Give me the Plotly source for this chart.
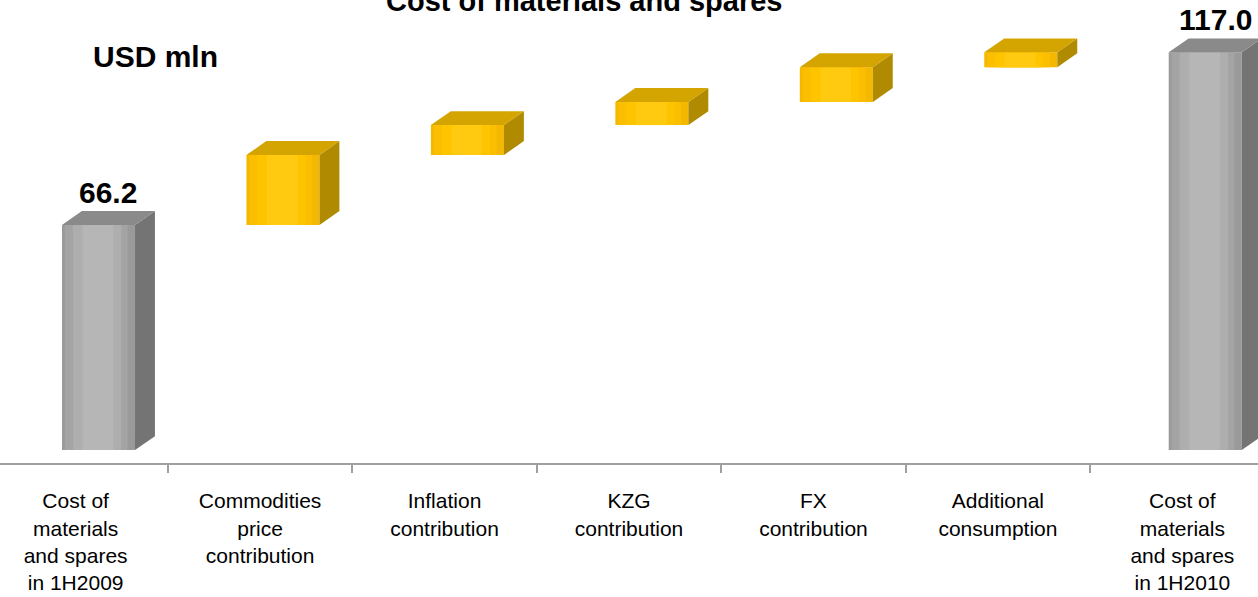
import plotly.graph_objects as go

# ---- data ----
categories = [
    "Cost of<br>materials<br>and spares<br>in 1H2009",
    "Commodities<br>price<br>contribution",
    "Inflation<br>contribution",
    "KZG<br>contribution",
    "FX<br>contribution",
    "Additional<br>consumption",
    "Cost of<br>materials<br>and spares<br>in 1H2010",
]
start_value = 66.2
changes = [20.6, 8.8, 6.8, 10.2, 4.4]
end_value = 117.0
title_text = "Cost of materials and spares"
unit_text = "USD mln"

# ---- derive waterfall bases / heights ----
bases, heights, kinds = [0.0], [start_value], ["total"]
level = start_value
for c in changes:
    bases.append(level)
    heights.append(c)
    kinds.append("delta")
    level += c
bases.append(0.0)
heights.append(end_value)
kinds.append("total")

# ---- 3D styling (in axis units) ----
W = 0.396      # front face width
OFF = -0.074   # front face left offset from category centre
DX = 0.108     # depth to the right
DY = 4.1       # depth upwards (value units)

colors = {
    "total": dict(front="#9A9A9A", bands=["#A4A4A4", "#AEAEAE", "#B6B6B6"],
                  top="#8A8A8A", side="#747474"),
    "delta": dict(front="#F5B800", bands=["#FBBE00", "#FFC400", "#FFCA10"],
                  top="#D4A400", side="#B08A00"),
}

fig = go.Figure()
xs = list(range(len(categories)))

# side and top faces
for i, b, h, k in zip(xs, bases, heights, kinds):
    c = colors[k]
    L = i + OFF
    R = L + W
    t = b + h
    fig.add_trace(go.Scatter(
        x=[R, R + DX, R + DX, R, R], y=[b, b + DY, t + DY, t, b],
        fill="toself", fillcolor=c["side"], mode="lines",
        line=dict(width=0, color=c["side"]), hoverinfo="skip", showlegend=False))
    fig.add_trace(go.Scatter(
        x=[L, R, R + DX, L + DX, L], y=[t, t, t + DY, t + DY, t],
        fill="toself", fillcolor=c["top"], mode="lines",
        line=dict(width=0, color=c["top"]), hoverinfo="skip", showlegend=False))

# front faces
fig.add_trace(go.Bar(
    x=xs, y=heights, base=bases, width=W, offset=OFF,
    marker=dict(color=[colors[k]["front"] for k in kinds], line=dict(width=0)),
    hoverinfo="skip", showlegend=False))
# soft gradient bands on front faces
for j, frac in enumerate([0.86, 0.66, 0.42]):
    fig.add_trace(go.Bar(
        x=xs, y=heights, base=bases, width=W * frac, offset=OFF + W * (0.04 + (0.86 - frac) * 0.55),
        marker=dict(color=[colors[k]["bands"][j] for k in kinds], line=dict(width=0)),
        hoverinfo="skip", showlegend=False))

fig.update_layout(barmode="overlay")

# value labels on total bars
for i, b, h, k in zip(xs, bases, heights, kinds):
    if k == "total":
        fig.add_annotation(
            x=i + OFF + (W + DX) / 2, y=b + h + DY, text=f"<b>{h:.1f}</b>",
            showarrow=False, yanchor="bottom", yshift=0,
            font=dict(family="Liberation Sans, Arial", size=30, color="#000000"))

fig.add_annotation(
    xref="paper", yref="paper", x=0.124, y=0.877, text=f"<b>{unit_text}</b>",
    showarrow=False, xanchor="center", yanchor="middle",
    font=dict(family="Liberation Sans, Arial", size=30, color="#000000"))

fig.add_annotation(
    xref="paper", yref="paper", x=584 / 1258, y=1, text=f"<b>{title_text}</b>",
    showarrow=False, xanchor="center", yanchor="bottom", yshift=-19,
    font=dict(family="Liberation Sans, Arial", size=29, color="#000000"))

fig.update_layout(
    width=1258, height=597,
    margin=dict(l=0, r=0, t=0, b=134, autoexpand=False),
    paper_bgcolor="white", plot_bgcolor="white",
    xaxis=dict(
        range=[-0.41, 6.41], tickmode="array", tickvals=xs, ticktext=categories,
        showline=True, linecolor="#A0A0A0", linewidth=2, ticks="",
        showgrid=False, zeroline=False, ticklabelstandoff=18, automargin=False,
        tickfont=dict(family="Liberation Sans, Arial", size=21, color="#000000"),
        minor=dict(tick0=0.5, dtick=1, ticks="outside", ticklen=8,
                   tickcolor="#A0A0A0", tickwidth=2, showgrid=False),
    ),
    yaxis=dict(range=[-3.8, 132.4], visible=False, showgrid=False, zeroline=False,
               automargin=False),
)

fig.write_html("out.html", config={"displayModeBar": False},
               post_script="document.body.style.margin='0';")
